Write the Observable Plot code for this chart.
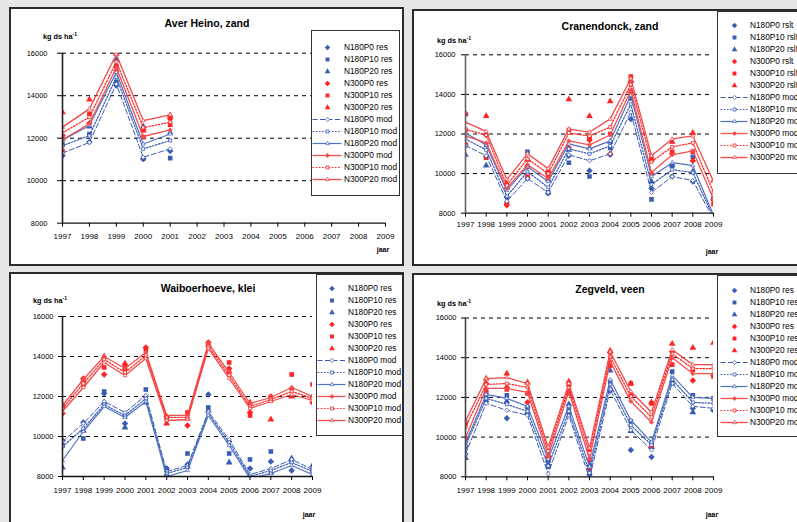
<!DOCTYPE html>
<html><head><meta charset="utf-8">
<script src="https://cdn.jsdelivr.net/npm/d3@7"></script>
<script src="https://cdn.jsdelivr.net/npm/@observablehq/plot@0.6"></script>
<style>
html,body{margin:0;padding:0;}
body{width:797px;height:522px;overflow:hidden;background:#e7e7e7;position:relative;font-family:"Liberation Sans",Arial,sans-serif;}
.panel{position:absolute;background:#fff;border:2px solid #2b2b2b;box-sizing:border-box;overflow:hidden;}
.panel > svg{position:absolute;left:0;top:0;}
.t{position:absolute;white-space:nowrap;font-weight:bold;color:#000;}
.legend{position:absolute;background:#fff;border:1.5px solid #333;box-sizing:border-box;overflow:hidden;}
.legend svg{position:absolute;left:0;top:0;}
</style>
</head><body>
<script>
// ---------- data ----------
const years = [1997,1998,1999,2000,2001,2002,2003,2004,2005,2006,2007,2008,2009];
const yTicks = [8000,10000,12000,14000,16000];
const gridValues = [10000,12000,14000,16000];
const seriesNames = ["N180P0","N180P10","N180P20","N300P0","N300P10","N300P20"];

// Aver Heino, zand (1997-2001)
const heinoRes = [
  [11180,11820,14480,11020,11400],
  [11700,12200,14640,11050,11060],
  [12000,12550,15690,12550,12250],
  [12130,12700,15180,12400,12910],
  [11390,13150,15380,12050,12640],
  [13220,13820,15970,12360,13070]
];
const heinoMod = [
  [11300,11800,14550,11100,11500],
  [11650,12120,14870,11500,11890],
  [11900,12600,15100,11730,12200],
  [11920,12680,15330,12080,12390],
  [12250,12990,15600,12500,12750],
  [12520,13380,15950,12830,13100]
];

// Cranendonck, zand
const cranRes = [
  [11400,10850,8800,9750,9000,10900,10150,10950,12750,9250,9850,9600,8700],
  [13000,11450,8500,11100,9050,10550,9850,11300,13800,8700,10400,10850,8750],
  [10950,10400,9300,10400,9700,11200,11300,11600,14700,9600,10450,10100,null],
  [11500,11950,8400,10350,10100,11300,11700,11000,14100,10000,11000,10650,8650],
  [12200,10800,8500,9850,9850,12200,11800,12000,14900,10800,11100,11100,8450],
  [13050,12900,9500,10700,10100,13750,12900,13650,14700,10700,11600,12050,9650]
];
const cranMod = [
  [11420,10900,8600,9750,9050,10950,10650,11000,13100,9050,9850,9650,7700],
  [11750,11200,8850,10100,9300,11250,11000,11400,13500,9450,10200,10050,7800],
  [12050,11450,9150,10350,9600,11500,11250,11650,13950,9850,10550,10400,7900],
  [11900,11550,9250,10450,9750,11650,11450,11950,14200,10050,10950,11150,8700],
  [12230,11950,9400,10750,10000,12050,11900,12350,14500,10600,11350,11550,9050],
  [12600,12130,9700,11000,10250,12250,12100,12750,14800,10900,11750,11900,9600]
];

// Waiboerhoeve, klei
const waiRes = [
  [9800,10700,12150,10650,12000,8400,8600,12100,9750,8400,8750,8300,8000],
  [9550,9900,12250,11000,12350,8350,9150,11450,9150,8850,9250,8800,8300],
  [8450,10300,11700,10450,11700,8100,8500,11300,8700,8000,8200,8900,8550],
  [11150,12900,13100,13350,14450,11000,10550,14700,13400,11200,12000,12400,11700],
  [11500,12600,13450,13550,14350,10900,11200,14550,13700,11050,11800,13100,12600],
  [11600,12800,14000,13650,14000,10650,10900,14600,13250,11700,10850,12000,12000]
];
const waiMod = [
  [9750,10650,11750,11200,12050,8250,8550,11250,9850,8100,8400,8850,8350],
  [9500,10400,11600,11050,11900,8150,8450,11150,9700,8000,8300,8700,8250],
  [8800,10250,11500,10950,11750,8000,8300,11050,9550,7900,8150,8550,8100],
  [11550,12850,14000,13400,14200,11050,11050,14650,13200,11650,11950,12450,12000],
  [11400,12650,13850,13200,14050,10950,10950,14500,13050,11500,11850,12250,11900],
  [11250,12450,13700,13050,13900,10800,10850,14400,12900,11400,11750,12100,11800]
];

// Zegveld, veen
const zegRes = [
  [9150,12000,10950,11200,8600,11200,8100,12350,9350,9000,12800,11450,11350],
  [9500,12200,12100,11500,8500,11400,8200,12800,10800,9700,13300,12100,11950],
  [8950,11850,11800,11550,8800,11650,8600,13350,10300,9500,12700,11250,11400],
  [9900,12700,12500,11750,9000,12600,8400,14250,12100,9500,14300,12850,13100],
  [10650,12350,12400,12200,8950,12200,8850,13600,12700,11700,13650,13400,13050],
  [10800,12950,13200,12750,9100,12800,9400,14350,12700,11750,14700,14500,14750]
];
const zegMod = [
  [9150,11700,11350,11100,8150,11100,7900,12400,10350,9350,12700,11550,11450],
  [9550,11950,11650,11300,8550,11300,8200,12650,10600,9600,12900,11750,11700],
  [9700,12150,11950,11550,8900,11550,8500,12900,10850,9750,13100,12000,11950],
  [9950,12450,12450,12250,9050,12300,8900,13800,11800,10750,14000,13200,13200],
  [10500,12650,12700,12500,9300,12500,9200,14050,12050,11000,14200,13450,13450],
  [10800,12950,13000,12700,9500,12700,9450,14300,12300,11250,14400,13650,13650]
];

// ---------- styles ----------
const BLUE = "#3a5cb3", RED = "#ff2424";
const resStyles = [
  {symbol:"diamond2", color:BLUE, r:2.9},
  {symbol:"square", color:BLUE, r:2.6},
  {symbol:"triangle", color:BLUE, r:2.5},
  {symbol:"diamond2", color:RED, r:2.9},
  {symbol:"square", color:RED, r:2.6},
  {symbol:"triangle", color:RED, r:2.5}
];
const modStyles = [
  {symbol:"diamond2", stroke:"#3a5cb3", dash:"5,2.5", width:1, fill:"#fff"},
  {symbol:"square2", stroke:"#3658b8", dash:"1.6,1.6", width:1.2, fill:"#fff"},
  {symbol:"triangle2", stroke:"#5273c2", dash:null, width:1.2, fill:"#fff"},
  {symbol:"diamond2", stroke:"#f25050", dash:null, width:1.3, fill:"#f25050"},
  {symbol:"square2", stroke:"#ff2020", dash:"1.6,1.6", width:1.2, fill:"#fff"},
  {symbol:"triangle2", stroke:"#f24a4a", dash:null, width:1.3, fill:"#fff"}
];

const panels = [
  {title:"Aver Heino, zand", res:heinoRes, mod:heinoMod, suffix:"res",
   box:{x:9,y:7,w:395,h:259}, plot:{x0:62,x1:385,y0:52.7,y1:222.7},
   xPad:6, yTick:5, yPad:10, axisColor:"#222",
   titleXY:[207,23], kgXY:[43,36], jaarXY:[383,249],
   legend:{x:311,y:30,w:89,h:166,row0:38,rowN:188,lineX0:313,lineX1:342,textX:344}},
  {title:"Cranendonck, zand", res:cranRes, mod:cranMod, suffix:"rslt",
   box:{x:412,y:9,w:400,h:257}, plot:{x0:465,x1:713,y0:54.3,y1:212.7},
   xPad:4.5, yTick:4, yPad:6, axisColor:"#666",
   titleXY:[610,26], kgXY:[437,40], jaarXY:[712,251],
   legend:{x:717,y:11,w:100,h:163,row0:17.3,rowN:165.7,lineX0:721,lineX1:748,textX:750}},
  {title:"Waiboerhoeve, klei", res:waiRes, mod:waiMod, suffix:"res",
   box:{x:9,y:272,w:395,h:260}, plot:{x0:62,x1:312,y0:316,y1:476},
   xPad:6.5, yTick:4, yPad:5, axisColor:"#222",
   titleXY:[208,288], kgXY:[33,300], jaarXY:[309,514],
   legend:{x:316,y:274,w:100,h:162,row0:280,rowN:429,lineX0:318,lineX1:346,textX:348}},
  {title:"Zegveld, veen", res:zegRes, mod:zegMod, suffix:"res",
   box:{x:412,y:273,w:400,h:260}, plot:{x0:465,x1:713,y0:317.5,y1:476.3},
   xPad:6.5, yTick:4, yPad:5, axisColor:"#444",
   titleXY:[610,289], kgXY:[437,303], jaarXY:[712,514],
   legend:{x:717,y:275,w:100,h:162,row0:282,rowN:430,lineX0:721,lineX1:748,textX:750}}
];

function toRows(arr) {
  return arr.map((vals, i) => vals.map((v, j) => ({series: seriesNames[i], year: years[j], value: v})).filter(d => d.value != null));
}

function addText(parent, ox, oy, x, y, html, size, anchor) {
  const el = document.createElement("div");
  el.className = "t";
  el.style.fontSize = size + "px";
  el.style.left = (x - ox) + "px";
  el.style.top = (y - oy) + "px";
  el.style.transform = anchor === "start" ? "translate(0,-50%)" : "translate(-50%,-50%)";
  el.innerHTML = html;
  parent.appendChild(el);
}

for (const p of panels) {
  const div = document.createElement("div");
  div.className = "panel";
  Object.assign(div.style, {left: p.box.x + "px", top: p.box.y + "px", width: p.box.w + "px", height: p.box.h + "px"});
  document.body.appendChild(div);
  const ox = p.box.x + 2, oy = p.box.y + 2;
  const W = p.box.w - 4, H = p.box.h - 4;

  const resRows = toRows(p.res), modRows = toRows(p.mod);
  const marks = [
    Plot.ruleY(gridValues, {stroke: "#000", strokeWidth: 1, strokeDasharray: "4,4"})
  ];
  resRows.forEach((rows, i) => {
    const s = resStyles[i];
    marks.push(Plot.dot(rows, {x: "year", y: "value", symbol: s.symbol, r: s.r, fill: s.color, stroke: "none", clip: true}));
  });
  modRows.forEach((rows, i) => {
    const s = modStyles[i];
    marks.push(Plot.line(rows, {x: "year", y: "value", stroke: s.stroke, strokeWidth: s.width, strokeDasharray: s.dash || undefined, clip: true}));
    marks.push(Plot.dot(rows, {x: "year", y: "value", symbol: s.symbol, r: 1.9, fill: s.fill, stroke: s.stroke, strokeWidth: 0.8, clip: true}));
  });
  marks.push(Plot.ruleX([1997], {stroke: p.axisColor, strokeWidth: 1.6}));
  marks.push(Plot.ruleY([8000], {stroke: "#111", strokeWidth: 1.3}));
  marks.push(Plot.axisX({ticks: years, tickFormat: d => String(d), tickSize: 4, tickPadding: p.xPad, fontSize: 8, label: null}));
  marks.push(Plot.axisY({ticks: yTicks, tickFormat: d => String(d), tickSize: p.yTick, tickPadding: p.yPad, fontSize: 7.5, label: null}));

  const svg = Plot.plot({
    width: W, height: H,
    marginLeft: p.plot.x0 - ox, marginRight: W - (p.plot.x1 - ox),
    marginTop: p.plot.y0 - oy, marginBottom: H - (p.plot.y1 - oy),
    x: {domain: [1997, 2009]},
    y: {domain: [8000, 16000]},
    style: {fontFamily: "'Liberation Sans', Arial, sans-serif", fontSize: "8px", color: "#000", background: "transparent", overflow: "visible"},
    marks
  });
  div.appendChild(svg);

  addText(div, ox, oy, p.titleXY[0], p.titleXY[1], p.title, 10.5, "middle");
  addText(div, ox, oy, p.kgXY[0], p.kgXY[1], 'kg ds ha<sup style="font-size:5px;vertical-align:3px">-1</sup>', 7.3, "start");
  addText(div, ox, oy, p.jaarXY[0], p.jaarXY[1], "jaar", 7, "middle");

  // legend
  const L = p.legend;
  const lg = document.createElement("div");
  lg.className = "legend";
  Object.assign(lg.style, {left: (L.x - ox) + "px", top: (L.y - oy) + "px", width: L.w + "px", height: L.h + "px"});
  div.appendChild(lg);
  const lox = L.x + 1.5, loy = L.y + 1.5;
  const resLabels = seriesNames.map(s => s + " " + p.suffix);
  const modLabels = seriesNames.map(s => s + " mod");
  const resEntries = resLabels.map((label, i) => ({label, i}));
  const modEntries = modLabels.map((label, i) => ({label, i}));
  const lmarks = [];
  modEntries.forEach(e => {
    const s = modStyles[e.i];
    lmarks.push(Plot.ruleY([e], {y: "label", x1: 0, x2: 1, stroke: s.stroke, strokeWidth: s.width, strokeDasharray: s.dash || undefined}));
    lmarks.push(Plot.dot([e], {x: 0.5, y: "label", symbol: s.symbol, r: 1.9, fill: s.fill, stroke: s.stroke, strokeWidth: 0.8}));
  });
  resEntries.forEach(e => {
    const s = resStyles[e.i];
    lmarks.push(Plot.dot([e], {x: 0.5, y: "label", symbol: s.symbol, r: s.r * 0.85, fill: s.color, stroke: "none"}));
  });
  lmarks.push(Plot.text([...resEntries, ...modEntries], {x: 1, y: "label", text: "label", textAnchor: "start", dx: L.textX - L.lineX1, fontSize: 8.3, fill: "#000"}));
  const lsvg = Plot.plot({
    width: L.w - 3, height: L.h - 3, margin: 0,
    x: {domain: [0, 1], range: [L.lineX0 - lox, L.lineX1 - lox], axis: null},
    y: {type: "point", domain: [...resLabels, ...modLabels], range: [L.row0 - loy, L.rowN - loy], axis: null},
    style: {fontFamily: "'Liberation Sans', Arial, sans-serif", fontSize: "8px", background: "transparent", overflow: "visible"},
    marks: lmarks
  });
  lg.appendChild(lsvg);
}
</script>
</body></html>
